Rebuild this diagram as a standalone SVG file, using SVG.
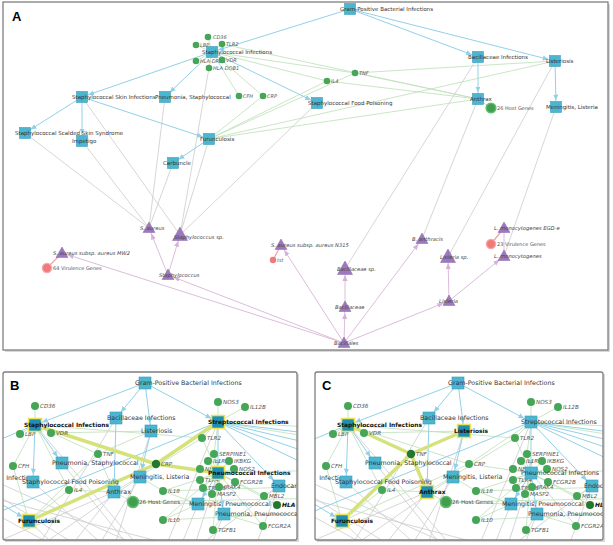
<svg xmlns="http://www.w3.org/2000/svg" width="613" height="545" viewBox="0 0 613 545">
<style>
text{font-family:"DejaVu Sans",Verdana,sans-serif;fill:#333}
.d{font-size:5.5px}
.g{font-size:5px;font-style:italic;fill:#555}
.t{font-size:5.2px;font-style:italic;fill:#444}
.n{font-size:5px;fill:#555}
.db{font-size:6.3px}
.gb{font-size:5.6px;font-style:italic;fill:#555}
.nb{font-size:5.6px;fill:#555}
.hb{font-weight:bold;fill:#111;font-size:5.9px}
.sq{fill:#4cb6d1;stroke:#3b9db8;stroke-width:.6}
.sqh{fill:#1c8fb2;stroke:#ede35a;stroke-width:1.6}
.gn{fill:#46a658}
.gnh{fill:#23782f}
.hg{fill:#3f9f4f;stroke:#63bb70;stroke-width:1.6}
.tri{fill:#9d78bd;stroke:#8a66ab;stroke-width:.5;stroke-linejoin:round}
.rd{fill:#f07a7a;stroke:#f6a8a8;stroke-width:1.4}
.rs{fill:#f07a7a}
.eb line{stroke:#91d1e8;stroke-width:1}
.eg line{stroke:#c0e1bc;stroke-width:.85}
.egr line{stroke:#cfcfcf;stroke-width:.85}
.ep line{stroke:#dcbddc;stroke-width:1}
.er line{stroke:#f3a0a0;stroke-width:1.2}
.ey line{stroke:#d5e27a;stroke-width:3.5;stroke-linecap:round}
.frame{fill:none;stroke:#7f7f7f;stroke-width:1.3}
.lab{font-family:"Liberation Sans",Arial,sans-serif;font-weight:bold;font-size:13px;fill:#000}
</style>
<defs>
<marker id="mA" viewBox="0 0 6 6" refX="12.5" refY="3" markerWidth="6" markerHeight="6" markerUnits="userSpaceOnUse" orient="auto"><path d="M0,0.4 L6,3 L0,5.6 z" fill="#91d1e8"/></marker>
<marker id="mB" viewBox="0 0 6 6" refX="13.5" refY="3" markerWidth="6" markerHeight="6" markerUnits="userSpaceOnUse" orient="auto"><path d="M0,0.4 L6,3 L0,5.6 z" fill="#91d1e8"/></marker>
<marker id="mP" viewBox="0 0 6 6" refX="12" refY="3" markerWidth="6" markerHeight="6" markerUnits="userSpaceOnUse" orient="auto"><path d="M0,0.5 L6,3 L0,5.5 z" fill="#d6b0d6"/></marker>
<path id="tr" d="M0,-6 L6,4.5 L-6,4.5 Z"/>
<path id="trL" d="M0,-8 L7.5,5.5 L-7.5,5.5 Z"/>
<clipPath id="clipB"><rect x="3" y="372" width="294" height="168"/></clipPath>
<clipPath id="clipC"><rect x="315" y="372" width="288" height="168"/></clipPath>

<g id="bEdges">
<g class="egr">
<line x1="33" y1="482" x2="120" y2="560"/>
<line x1="62" y1="463" x2="140" y2="560"/>
<line x1="-30" y1="478" x2="100" y2="560"/>
<line x1="-30" y1="500" x2="80" y2="560"/>
<line x1="-30" y1="470" x2="170" y2="560"/>
<line x1="-30" y1="492" x2="230" y2="560"/>
<line x1="29" y1="521" x2="70" y2="560"/>
<line x1="114" y1="492" x2="60" y2="560"/>
<line x1="114" y1="492" x2="-10" y2="545"/>
<line x1="140" y1="477" x2="90" y2="560"/>
<line x1="140" y1="477" x2="20" y2="560"/>
<line x1="151" y1="431" x2="110" y2="560"/>
<line x1="116" y1="418" x2="30" y2="560"/>
<line x1="35" y1="425" x2="150" y2="560"/>
<line x1="218" y1="422" x2="160" y2="560"/>
<line x1="218" y1="473" x2="190" y2="560"/>
<line x1="198" y1="504" x2="175" y2="560"/>
<line x1="224" y1="514" x2="205" y2="560"/>
<line x1="279" y1="486" x2="250" y2="560"/>
<line x1="279" y1="486" x2="180" y2="560"/>
</g>
<g class="eg">
<line x1="35" y1="425" x2="35" y2="406"/>
<line x1="35" y1="425" x2="20" y2="434"/>
<line x1="35" y1="425" x2="51" y2="433"/>
<line x1="35" y1="425" x2="13" y2="466"/>
<line x1="35" y1="425" x2="98" y2="454"/>
<line x1="35" y1="425" x2="69" y2="490"/>
<line x1="35" y1="425" x2="156" y2="464"/>
<line x1="35" y1="425" x2="202" y2="438"/>
<line x1="51" y1="433" x2="151" y2="431"/>
<line x1="29" y1="521" x2="13" y2="466"/>
<line x1="29" y1="521" x2="98" y2="454"/>
<line x1="29" y1="521" x2="69" y2="490"/>
<line x1="29" y1="521" x2="156" y2="464"/>
<line x1="114" y1="492" x2="98" y2="454"/>
<line x1="114" y1="492" x2="69" y2="490"/>
<line x1="114" y1="492" x2="133" y2="502"/>
<line x1="114" y1="492" x2="202" y2="438"/>
<line x1="151" y1="431" x2="98" y2="454"/>
<line x1="218" y1="422" x2="218" y2="402"/>
<line x1="218" y1="422" x2="245" y2="407"/>
<line x1="218" y1="422" x2="202" y2="438"/>
<line x1="218" y1="422" x2="156" y2="464"/>
<line x1="218" y1="422" x2="214" y2="454"/>
<line x1="218" y1="422" x2="330" y2="428"/>
<line x1="218" y1="422" x2="330" y2="440"/>
<line x1="218" y1="473" x2="214" y2="454"/>
<line x1="218" y1="473" x2="208" y2="461"/>
<line x1="218" y1="473" x2="229" y2="461"/>
<line x1="218" y1="473" x2="200" y2="469"/>
<line x1="218" y1="473" x2="234" y2="469"/>
<line x1="218" y1="473" x2="200" y2="480"/>
<line x1="218" y1="473" x2="235" y2="482"/>
<line x1="218" y1="473" x2="203" y2="488"/>
<line x1="218" y1="473" x2="219" y2="487"/>
<line x1="218" y1="473" x2="212" y2="494"/>
<line x1="218" y1="473" x2="264" y2="496"/>
<line x1="218" y1="473" x2="277" y2="505"/>
<line x1="218" y1="473" x2="156" y2="464"/>
<line x1="218" y1="473" x2="202" y2="438"/>
<line x1="218" y1="473" x2="163" y2="491"/>
<line x1="218" y1="473" x2="163" y2="520"/>
<line x1="218" y1="473" x2="213" y2="530"/>
<line x1="218" y1="473" x2="263" y2="526"/>
<line x1="218" y1="473" x2="330" y2="470"/>
<line x1="198" y1="504" x2="163" y2="491"/>
<line x1="198" y1="504" x2="163" y2="520"/>
<line x1="198" y1="504" x2="133" y2="502"/>
<line x1="224" y1="514" x2="263" y2="526"/>
<line x1="224" y1="514" x2="213" y2="530"/>
<line x1="279" y1="486" x2="264" y2="496"/>
<line x1="163" y1="491" x2="330" y2="486"/>
<line x1="163" y1="520" x2="330" y2="512"/>
<line x1="133" y1="502" x2="330" y2="498"/>
<line x1="277" y1="505" x2="330" y2="505"/>
<line x1="140" y1="477" x2="163" y2="491"/>
</g>
<g class="eb">
<line x1="145" y1="383" x2="35" y2="425" marker-end="url(#mB)"/>
<line x1="145" y1="383" x2="116" y2="418" marker-end="url(#mB)"/>
<line x1="145" y1="383" x2="151" y2="431" marker-end="url(#mB)"/>
<line x1="145" y1="383" x2="218" y2="422" marker-end="url(#mB)"/>
<line x1="35" y1="425" x2="62" y2="463" marker-end="url(#mB)"/>
<line x1="35" y1="425" x2="33" y2="482" marker-end="url(#mB)"/>
<line x1="35" y1="425" x2="-30" y2="452"/>
<line x1="-25" y1="488" x2="29" y2="521" marker-end="url(#mB)"/>
<line x1="218" y1="422" x2="-30" y2="524"/>
<line x1="218" y1="422" x2="218" y2="473" marker-end="url(#mB)"/>
<line x1="218" y1="473" x2="198" y2="504" marker-end="url(#mB)"/>
<line x1="218" y1="473" x2="224" y2="514" marker-end="url(#mB)"/>
<line x1="116" y1="418" x2="114" y2="492" marker-end="url(#mB)"/>
<line x1="151" y1="431" x2="140" y2="477" marker-end="url(#mB)"/>
<line x1="218" y1="422" x2="279" y2="486" marker-end="url(#mB)"/>
<line x1="218" y1="422" x2="330" y2="436"/>
<line x1="218" y1="422" x2="330" y2="448"/>
<line x1="218" y1="422" x2="330" y2="460"/>
<line x1="218" y1="422" x2="330" y2="476"/>
</g>
</g>

<g id="bNodes">
<g id="b-gram"><rect class="sq" x="139" y="377" width="12" height="12"/><text class="db" x="135" y="385.2">Gram-Positive Bacterial Infections</text></g>
<g id="b-cd36"><circle class="gn" cx="35" cy="406" r="4"/><text class="gb" x="40" y="408">CD36</text></g>
<g id="b-lbp"><circle class="gn" cx="20" cy="434" r="4"/><text class="gb" x="25" y="436">LBP</text></g>
<g id="b-vdr"><circle class="gn" cx="51" cy="433" r="4"/><text class="gb" x="56" y="435">VDR</text></g>
<g id="b-bacinf"><rect class="sq" x="110" y="412" width="12" height="12"/><text class="db" x="107" y="420">Bacillaceae Infections</text></g>
<g id="b-cfh"><circle class="gn" cx="13" cy="466" r="4"/><text class="gb" x="18" y="468">CFH</text></g>
<g id="b-pneustaph"><rect class="sq" x="56" y="457" width="12" height="12"/><text class="db" x="52" y="465">Pneumonia, Staphylococcal</text></g>
<g id="b-skin"><text class="db" x="37" y="480" text-anchor="end">Infections</text></g>
<g id="b-food"><rect class="sq" x="27" y="476" width="12" height="12"/><text class="db" x="22" y="484">Staphylococcal Food Poisoning</text></g>
<g id="b-menlist"><rect class="sq" x="134" y="471" width="12" height="12"/><text class="db" x="130" y="479">Meningitis, Listeria</text></g>
<g id="b-il4"><circle class="gn" cx="69" cy="490" r="4"/><text class="gb" x="74" y="492">IL4</text></g>
<g id="b-host"><circle class="hg" cx="133" cy="502" r="5.5"/><text class="nb" x="139" y="504">26 Host Genes</text></g>
<g id="b-nos3"><circle class="gn" cx="218" cy="402" r="4"/><text class="gb" x="223" y="404">NOS3</text></g>
<g id="b-il12b"><circle class="gn" cx="245" cy="407" r="4"/><text class="gb" x="250" y="409">IL12B</text></g>
<g id="b-tlr2"><circle class="gn" cx="202" cy="438" r="4"/><text class="gb" x="207" y="440">TLR2</text></g>
<g id="b-serpine1"><circle class="gn" cx="214" cy="454" r="4"/><text class="gb" x="219" y="456">SERPINE1</text></g>
<g id="b-il1rn"><circle class="gn" cx="208" cy="461" r="4"/><text class="gb" x="213" y="463">IL1RN</text></g>
<g id="b-ikbkg"><circle class="gn" cx="229" cy="461" r="4"/><text class="gb" x="234" y="463">IKBKG</text></g>
<g id="b-nfkbia"><circle class="gn" cx="200" cy="469" r="4"/><text class="gb" x="205" y="471">NFKBIA</text></g>
<g id="b-nos2"><circle class="gn" cx="234" cy="469" r="4"/><text class="gb" x="239" y="471">NOS2</text></g>
<g id="b-tlr4"><circle class="gn" cx="200" cy="480" r="4"/><text class="gb" x="205" y="482">TLR4</text></g>
<g id="b-fcgr2b"><circle class="gn" cx="235" cy="482" r="4"/><text class="gb" x="240" y="484">FCGR2B</text></g>
<g id="b-traf6"><circle class="gn" cx="203" cy="488" r="4"/><text class="gb" x="208" y="490">TRAF6</text></g>
<g id="b-irak4"><circle class="gn" cx="219" cy="487" r="4"/><text class="gb" x="224" y="489">IRAK4</text></g>
<g id="b-masp2"><circle class="gn" cx="212" cy="494" r="4"/><text class="gb" x="217" y="496">MASP2</text></g>
<g id="b-il18"><circle class="gn" cx="163" cy="491" r="4"/><text class="gb" x="168" y="493">IL18</text></g>
<g id="b-endocar"><rect class="sq" x="273" y="480" width="12" height="12"/><text class="db" x="271" y="488">Endocar</text></g>
<g id="b-mbl2"><circle class="gn" cx="264" cy="496" r="4"/><text class="gb" x="269" y="498">MBL2</text></g>
<g id="b-hla"><circle class="gnh" cx="277" cy="505" r="4"/><text class="gb hb" x="282" y="507">HLA</text></g>
<g id="b-menpneumo"><rect class="sq" x="192" y="498" width="12" height="12"/><text class="db" x="189" y="506">Meningitis, Pneumococcal</text></g>
<g id="b-pneupneumo"><rect class="sq" x="218" y="508" width="12" height="12"/><text class="db" x="215" y="516">Pneumonia, Pneumococcal</text></g>
<g id="b-il10"><circle class="gn" cx="163" cy="520" r="4"/><text class="gb" x="168" y="522">IL10</text></g>
<g id="b-tgfb1"><circle class="gn" cx="213" cy="530" r="4"/><text class="gb" x="218" y="532">TGFB1</text></g>
<g id="b-fcgr2a"><circle class="gn" cx="263" cy="526" r="4"/><text class="gb" x="268" y="528">FCGR2A</text></g>
</g>
</defs>

<rect width="613" height="545" fill="#fff"/>

<!-- Panel A -->
<g id="panelA">
<rect x="5" y="4" width="605" height="348" fill="#d8d8d8"/>
<rect x="3" y="2" width="605" height="348" fill="#fff"/>
<text class="lab" x="12" y="21">A</text>
<g id="connectorsA">
<g class="eg">
<line x1="212" y1="52" x2="208" y2="37"/>
<line x1="212" y1="52" x2="196" y2="45"/>
<line x1="212" y1="52" x2="222" y2="44"/>
<line x1="212" y1="52" x2="196" y2="61"/>
<line x1="212" y1="52" x2="222" y2="60"/>
<line x1="212" y1="52" x2="209" y2="68"/>
<line x1="212" y1="52" x2="239" y2="96"/>
<line x1="212" y1="52" x2="263" y2="96"/>
<line x1="212" y1="52" x2="327" y2="81"/>
<line x1="212" y1="52" x2="355" y2="73"/>
<line x1="222" y1="44" x2="478" y2="99"/>
<line x1="355" y1="73" x2="555" y2="61"/>
<line x1="355" y1="73" x2="478" y2="99"/>
<line x1="327" y1="81" x2="478" y2="99"/>
<line x1="209" y1="139" x2="327" y2="81"/>
<line x1="209" y1="139" x2="355" y2="73"/>
<line x1="209" y1="139" x2="263" y2="96"/>
<line x1="209" y1="139" x2="555" y2="61"/>
<line x1="209" y1="139" x2="478" y2="99"/>
<line x1="478" y1="99" x2="491" y2="108"/>
</g>
<g class="egr">
<line x1="25" y1="133" x2="149" y2="228"/>
<line x1="82" y1="141" x2="149" y2="228"/>
<line x1="165" y1="97" x2="149" y2="228"/>
<line x1="173" y1="163" x2="149" y2="228"/>
<line x1="82" y1="97" x2="180" y2="235"/>
<line x1="209" y1="68" x2="180" y2="235"/>
<line x1="209" y1="139" x2="180" y2="235"/>
<line x1="317" y1="103" x2="180" y2="235"/>
<line x1="478" y1="57" x2="345" y2="269"/>
<line x1="478" y1="99" x2="422" y2="239"/>
<line x1="555" y1="61" x2="448" y2="257"/>
<line x1="556" y1="107" x2="504" y2="256"/>
</g>
<g class="eb">
<line x1="350" y1="9" x2="212" y2="52" marker-end="url(#mA)"/>
<line x1="350" y1="9" x2="478" y2="57" marker-end="url(#mA)"/>
<line x1="350" y1="9" x2="555" y2="61" marker-end="url(#mA)"/>
<line x1="212" y1="52" x2="82" y2="97" marker-end="url(#mA)"/>
<line x1="212" y1="52" x2="165" y2="97" marker-end="url(#mA)"/>
<line x1="212" y1="52" x2="317" y2="103" marker-end="url(#mA)"/>
<line x1="82" y1="97" x2="25" y2="133" marker-end="url(#mA)"/>
<line x1="82" y1="97" x2="82" y2="141" marker-end="url(#mA)"/>
<line x1="82" y1="97" x2="209" y2="139" marker-end="url(#mA)"/>
<line x1="209" y1="139" x2="173" y2="163" marker-end="url(#mA)"/>
<line x1="478" y1="57" x2="478" y2="99" marker-end="url(#mA)"/>
<line x1="555" y1="61" x2="556" y2="107" marker-end="url(#mA)"/>
</g>
<g class="ep">
<line x1="344" y1="343" x2="168" y2="275" marker-end="url(#mP)"/>
<line x1="344" y1="343" x2="62" y2="253" marker-end="url(#mP)"/>
<line x1="344" y1="343" x2="281" y2="245" marker-end="url(#mP)"/>
<line x1="344" y1="343" x2="345" y2="307" marker-end="url(#mP)"/>
<line x1="344" y1="343" x2="422" y2="239" marker-end="url(#mP)"/>
<line x1="344" y1="343" x2="449" y2="301" marker-end="url(#mP)"/>
<line x1="168" y1="275" x2="149" y2="228" marker-end="url(#mP)"/>
<line x1="168" y1="275" x2="180" y2="235" marker-end="url(#mP)"/>
<line x1="345" y1="307" x2="345" y2="269" marker-end="url(#mP)"/>
<line x1="449" y1="301" x2="448" y2="257" marker-end="url(#mP)"/>
<line x1="449" y1="301" x2="504" y2="256" marker-end="url(#mP)"/>
<line x1="504" y1="256" x2="504" y2="228"/>
</g>
<g class="er">
<line x1="62" y1="253" x2="47" y2="268"/>
<line x1="281" y1="245" x2="273" y2="260"/>
<line x1="504" y1="228" x2="491" y2="244"/>
</g>
</g>

<g id="a-gram"><rect class="sq" x="344.5" y="3.5" width="11" height="11"/><text class="d" x="340" y="11">Gram-Positive Bacterial Infections</text></g>
<g id="a-staphinf"><rect class="sq" x="206.5" y="46.5" width="11" height="11"/><text class="d" x="202" y="54">Staphylococcal Infections</text></g>
<g id="a-cd36"><circle class="gn" cx="208" cy="37" r="3.3"/><text class="g" x="213" y="39">CD36</text></g>
<g id="a-lbp"><circle class="gn" cx="196" cy="45" r="3.3"/><text class="g" x="200" y="47">LBP</text></g>
<g id="a-tlr2"><circle class="gn" cx="222" cy="44" r="3.3"/><text class="g" x="226" y="46">TLR2</text></g>
<g id="a-hladrb1"><circle class="gn" cx="196" cy="61" r="3.3"/><text class="g" x="200" y="63">HLA-DRB1</text></g>
<g id="a-vdr"><circle class="gn" cx="222" cy="60" r="3.3"/><text class="g" x="226" y="62">VDR</text></g>
<g id="a-hladqb1"><circle class="gn" cx="209" cy="68" r="3.3"/><text class="g" x="213" y="70">HLA-DQB1</text></g>
<g id="a-skin"><rect class="sq" x="76.5" y="91.5" width="11" height="11"/><text class="d" x="72" y="99">Staphylococcal Skin Infections</text></g>
<g id="a-pneustaph"><rect class="sq" x="159.5" y="91.5" width="11" height="11"/><text class="d" x="155" y="99">Pneumonia, Staphylococcal</text></g>
<g id="a-cfh"><circle class="gn" cx="239" cy="96" r="3.3"/><text class="g" x="243" y="98">CFH</text></g>
<g id="a-crp"><circle class="gn" cx="263" cy="96" r="3.3"/><text class="g" x="267" y="98">CRP</text></g>
<g id="a-il4"><circle class="gn" cx="327" cy="81" r="3.3"/><text class="g" x="331" y="83">IL4</text></g>
<g id="a-tnf"><circle class="gn" cx="355" cy="73" r="3.3"/><text class="g" x="359" y="75">TNF</text></g>
<g id="a-food"><rect class="sq" x="311.5" y="97.5" width="11" height="11"/><text class="d" x="308" y="105">Staphylococcal Food Poisoning</text></g>
<g id="a-bacinf"><rect class="sq" x="472.5" y="51.5" width="11" height="11"/><text class="d" x="468" y="59">Bacillaceae Infections</text></g>
<g id="a-lister"><rect class="sq" x="549.5" y="55.5" width="11" height="11"/><text class="d" x="546" y="63">Listeriosis</text></g>
<g id="a-anthrax"><rect class="sq" x="472.5" y="93.5" width="11" height="11"/><text class="d" x="470" y="101">Anthrax</text></g>
<g id="a-host"><circle class="hg" cx="491" cy="108" r="4.8"/><text class="n" x="497" y="110">26 Host Genes</text></g>
<g id="a-menlist"><rect class="sq" x="550.5" y="101.5" width="11" height="11"/><text class="d" x="546" y="109">Meningitis, Listeria</text></g>
<g id="a-scalded"><rect class="sq" x="19.5" y="127.5" width="11" height="11"/><text class="d" x="15" y="135">Staphylococcal Scalded Skin Syndrome</text></g>
<g id="a-impetigo"><rect class="sq" x="76.5" y="135.5" width="11" height="11"/><text class="d" x="72" y="143">Impetigo</text></g>
<g id="a-furunc"><rect class="sq" x="203.5" y="133.5" width="11" height="11"/><text class="d" x="200" y="141">Furunculosis</text></g>
<g id="a-carbuncle"><rect class="sq" x="167.5" y="157.5" width="11" height="11"/><text class="d" x="163" y="165">Carbuncle</text></g>

<g id="a-saureus"><use href="#tr" x="149" y="228" class="tri"/><text class="t" x="140" y="230">S. aureus</text></g>
<g id="a-staphsp"><use href="#trL" x="180" y="235" class="tri"/><text class="t" x="174" y="239">Staphylococcus sp.</text></g>
<g id="a-mw2"><use href="#tr" x="62" y="253" class="tri"/><text class="t" x="53" y="255">S. aureus subsp. aureus MW2</text></g>
<g id="a-vir64"><circle class="rd" cx="47" cy="268" r="4.6"/><text class="n" x="53" y="270">64 Virulence Genes</text></g>
<g id="a-staphylococcus"><use href="#tr" x="168" y="275" class="tri"/><text class="t" x="159" y="277">Staphylococcus</text></g>
<g id="a-n315"><use href="#tr" x="281" y="245" class="tri"/><text class="t" x="271" y="247">S. aureus subsp. aureus N315</text></g>
<g id="a-tst"><circle class="rs" cx="273" cy="260" r="3.2"/><text class="g" x="277" y="262">tst</text></g>
<g id="a-bacsp"><use href="#trL" x="345" y="269" class="tri"/><text class="t" x="337" y="271">Bacillaceae sp.</text></g>
<g id="a-banthracis"><use href="#tr" x="422" y="239" class="tri"/><text class="t" x="412" y="241">B. anthracis</text></g>
<g id="a-listeriasp"><use href="#trL" x="448" y="257" class="tri"/><text class="t" x="440" y="259">Listeria sp.</text></g>
<g id="a-egde"><use href="#tr" x="504" y="228" class="tri"/><text class="t" x="494" y="230">L. monocytogenes EGD-e</text></g>
<g id="a-vir23"><circle class="rd" cx="491" cy="244" r="4.6"/><text class="n" x="497" y="246">23 Virulence Genes</text></g>
<g id="a-lmono"><use href="#tr" x="504" y="256" class="tri"/><text class="t" x="494" y="258">L. monocytogenes</text></g>
<g id="a-bacillaceae"><use href="#tr" x="345" y="307" class="tri"/><text class="t" x="335" y="309">Bacillaceae</text></g>
<g id="a-listeria"><use href="#tr" x="449" y="301" class="tri"/><text class="t" x="439" y="303">Listeria</text></g>
<g id="a-bacillales"><use href="#tr" x="344" y="343" class="tri"/><text class="t" x="334" y="345">Bacillales</text></g>
<rect class="frame" x="3" y="2" width="605" height="348"/>
</g>

<!-- Panel B -->
<g id="panelB">
<rect x="5" y="374" width="294" height="168" fill="#d8d8d8"/>
<rect x="3" y="372" width="294" height="168" fill="#fff"/>
<g clip-path="url(#clipB)">
<use href="#bEdges"/>
<g class="ey" id="b-highlight">
<line x1="35" y1="425" x2="156" y2="464"/>
<line x1="156" y1="464" x2="218" y2="422"/>
<line x1="156" y1="464" x2="218" y2="473"/>
<line x1="156" y1="464" x2="29" y2="521"/>
</g>
<use href="#bNodes"/>
<g id="b-staphinf"><rect class="sqh" x="28.5" y="418.5" width="13" height="13"/><text class="db hb" x="24" y="427">Staphylococcal Infections</text></g>
<g id="b-furunc"><rect class="sqh" x="22.5" y="514.5" width="13" height="13"/><text class="db hb" x="18" y="523">Furunculosis</text></g>
<g id="b-crp"><circle class="gnh" cx="156" cy="464" r="4.2"/><text class="gb" x="161" y="466">CRP</text></g>
<g id="b-strep"><rect class="sqh" x="211.5" y="415.5" width="13" height="13"/><text class="db hb" x="208" y="424">Streptococcal Infections</text></g>
<g id="b-pneumococcal"><rect class="sqh" x="211.5" y="466.5" width="13" height="13"/><text class="db hb" x="208" y="475">Pneumococcal Infections</text></g>
<g id="b-lister"><rect class="sq" x="145" y="425" width="12" height="12"/><text class="db" x="141" y="433">Listeriosis</text></g>
<g id="b-tnf"><circle class="gn" cx="98" cy="454" r="4"/><text class="gb" x="103" y="456">TNF</text></g>
<g id="b-anthrax"><rect class="sq" x="108" y="486" width="12" height="12"/><text class="db" x="106" y="494">Anthrax</text></g>
</g>
<text class="lab" x="10" y="390">B</text>
<rect class="frame" x="3" y="372" width="294" height="168" rx="2"/>
</g>

<!-- Panel C -->
<g id="panelC">
<rect x="317" y="374" width="288" height="168" fill="#d8d8d8"/>
<rect x="315" y="372" width="288" height="168" fill="#fff"/>
<g clip-path="url(#clipC)">
<g transform="translate(313,0)">
<use href="#bEdges"/>
<g class="ey" id="c-highlight">
<line x1="35" y1="425" x2="98" y2="454"/>
<line x1="98" y1="454" x2="151" y2="431"/>
<line x1="98" y1="454" x2="114" y2="492"/>
<line x1="98" y1="454" x2="29" y2="521"/>
</g>
<use href="#bNodes"/>
<g id="c-staphinf"><rect class="sqh" x="28.5" y="418.5" width="13" height="13"/><text class="db hb" x="24" y="427">Staphylococcal Infections</text></g>
<g id="c-furunc"><rect class="sqh" x="22.5" y="514.5" width="13" height="13"/><text class="db hb" x="18" y="523">Furunculosis</text></g>
<g id="c-crp"><circle class="gn" cx="156" cy="464" r="4"/><text class="gb" x="161" y="466">CRP</text></g>
<g id="c-strep"><rect class="sq" x="212" y="416" width="12" height="12"/><text class="db" x="208" y="424">Streptococcal Infections</text></g>
<g id="c-pneumococcal"><rect class="sq" x="212" y="467" width="12" height="12"/><text class="db" x="208" y="475">Pneumococcal Infections</text></g>
<g id="c-lister"><rect class="sqh" x="144.5" y="424.5" width="13" height="13"/><text class="db hb" x="141" y="433">Listeriosis</text></g>
<g id="c-tnf"><circle class="gnh" cx="98" cy="454" r="4.2"/><text class="gb" x="103" y="456">TNF</text></g>
<g id="c-anthrax"><rect class="sqh" x="107.5" y="485.5" width="13" height="13"/><text class="db hb" x="106" y="494">Anthrax</text></g>
</g>
</g>
<text class="lab" x="322" y="390">C</text>
<rect class="frame" x="315" y="372" width="288" height="168" rx="2"/>
</g>
</svg>
